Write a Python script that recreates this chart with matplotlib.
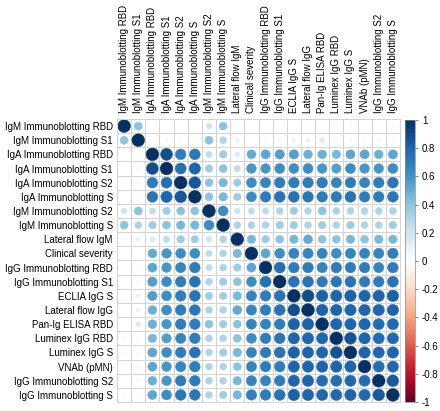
import numpy as np
import matplotlib
matplotlib.use('Agg')
import matplotlib.pyplot as plt
from matplotlib.patches import Circle
from matplotlib.colors import LinearSegmentedColormap, Normalize
from matplotlib.cm import ScalarMappable

labels = ['IgM Immunoblotting RBD', 'IgM Immunoblotting S1', 'IgA Immunoblotting RBD',
          'IgA Immunoblotting S1', 'IgA Immunoblotting S2', 'IgA Immunoblotting S',
          'IgM Immunoblotting S2', 'IgM Immunoblotting S', 'Lateral flow IgM',
          'Clinical severity', 'IgG Immunoblotting RBD', 'IgG Immunoblotting S1',
          'ECLIA IgG S', 'Lateral flow IgG', 'Pan-Ig ELISA RBD', 'Luminex IgG RBD',
          'Luminex IgG S', 'VNAb (pMN)', 'IgG Immunoblotting S2', 'IgG Immunoblotting S']

corr = [
    [1, 0.4, 0, 0, 0.02, 0, 0.2, 0.4, 0.05, 0.02, 0.02, -0.02, 0, 0, 0, -0.05, -0.05, 0, 0, -0.05],
    [0.4, 1, 0.02, 0.05, 0.05, 0, 0.4, 0.3, 0.1, 0, 0.02, 0.05, 0.1, 0.1, 0.15, 0.03, 0.05, 0.05, 0.05, 0.02],
    [0, 0.02, 1, 0.88, 0.7, 0.72, 0.25, 0.35, 0.15, 0.5, 0.52, 0.55, 0.55, 0.48, 0.48, 0.45, 0.52, 0.52, 0.48, 0.52],
    [0, 0.05, 0.88, 1, 0.75, 0.8, 0.35, 0.4, 0.25, 0.58, 0.58, 0.62, 0.62, 0.62, 0.58, 0.55, 0.62, 0.58, 0.58, 0.62],
    [0.02, 0.05, 0.7, 0.75, 1, 0.85, 0.4, 0.45, 0.35, 0.62, 0.66, 0.7, 0.7, 0.7, 0.7, 0.66, 0.7, 0.66, 0.7, 0.72],
    [0, 0, 0.72, 0.8, 0.85, 1, 0.4, 0.45, 0.35, 0.62, 0.7, 0.74, 0.74, 0.72, 0.7, 0.7, 0.74, 0.7, 0.7, 0.72],
    [0.2, 0.4, 0.25, 0.35, 0.4, 0.4, 1, 0.62, 0.2, 0.25, 0.25, 0.3, 0.35, 0.3, 0.4, 0.3, 0.3, 0.3, 0.3, 0.3],
    [0.4, 0.3, 0.35, 0.4, 0.45, 0.45, 0.62, 1, 0.3, 0.3, 0.3, 0.35, 0.35, 0.3, 0.35, 0.3, 0.35, 0.3, 0.3, 0.35],
    [0.05, 0.1, 0.15, 0.25, 0.35, 0.35, 0.2, 0.3, 1, 0.45, 0.35, 0.4, 0.45, 0.5, 0.4, 0.4, 0.45, 0.4, 0.45, 0.45],
    [0.02, 0, 0.5, 0.58, 0.62, 0.62, 0.25, 0.3, 0.45, 1, 0.52, 0.62, 0.66, 0.66, 0.66, 0.62, 0.66, 0.66, 0.66, 0.68],
    [0.02, 0.02, 0.52, 0.58, 0.66, 0.7, 0.25, 0.3, 0.35, 0.52, 1, 0.75, 0.7, 0.7, 0.66, 0.7, 0.7, 0.7, 0.66, 0.7],
    [-0.02, 0.05, 0.55, 0.62, 0.7, 0.74, 0.3, 0.35, 0.4, 0.62, 0.75, 1, 0.74, 0.74, 0.7, 0.72, 0.74, 0.7, 0.7, 0.74],
    [0, 0.1, 0.55, 0.62, 0.7, 0.74, 0.35, 0.35, 0.45, 0.66, 0.7, 0.74, 1, 0.88, 0.82, 0.8, 0.82, 0.8, 0.8, 0.82],
    [0, 0.1, 0.48, 0.62, 0.7, 0.72, 0.3, 0.3, 0.5, 0.66, 0.7, 0.74, 0.88, 1, 0.82, 0.8, 0.8, 0.8, 0.8, 0.8],
    [0, 0.15, 0.48, 0.58, 0.7, 0.7, 0.4, 0.35, 0.4, 0.66, 0.66, 0.7, 0.82, 0.82, 1, 0.8, 0.8, 0.8, 0.76, 0.78],
    [-0.05, 0.03, 0.45, 0.55, 0.66, 0.7, 0.3, 0.3, 0.4, 0.62, 0.7, 0.72, 0.8, 0.8, 0.8, 1, 0.86, 0.8, 0.76, 0.78],
    [-0.05, 0.05, 0.52, 0.62, 0.7, 0.74, 0.3, 0.35, 0.45, 0.66, 0.7, 0.74, 0.82, 0.8, 0.8, 0.86, 1, 0.8, 0.78, 0.8],
    [0, 0.05, 0.52, 0.58, 0.66, 0.7, 0.3, 0.3, 0.4, 0.66, 0.7, 0.7, 0.8, 0.8, 0.8, 0.8, 0.8, 1, 0.76, 0.78],
    [0, 0.05, 0.48, 0.58, 0.7, 0.7, 0.3, 0.3, 0.45, 0.66, 0.66, 0.7, 0.8, 0.8, 0.76, 0.76, 0.78, 0.76, 1, 0.84],
    [-0.05, 0.02, 0.52, 0.62, 0.72, 0.72, 0.3, 0.35, 0.45, 0.68, 0.7, 0.74, 0.82, 0.8, 0.78, 0.78, 0.8, 0.78, 0.84, 1],
]

# corrplot's COL2('RdBu') palette
rdbu = ['#67001F', '#B2182B', '#D6604D', '#F4A582', '#FDDBC7', '#FFFFFF',
        '#D1E5F0', '#92C5DE', '#4393C3', '#2166AC', '#053061']
cmap = LinearSegmentedColormap.from_list('corr', rdbu, N=200)
norm = Normalize(-1, 1)

plt.rcParams['font.family'] = ['Liberation Sans', 'DejaVu Sans']
fs = 7.0

fig = plt.figure(figsize=(4.40, 4.11), dpi=100)
ax = fig.add_axes([0.266, 0.0219, 0.643, 0.6886])

m = np.array(corr)
n = len(labels)
for i in range(n):
    for j in range(n):
        r = m[i, j]
        c = cmap(norm(r))
        ax.add_patch(Circle((j, i), 0.45 * np.sqrt(abs(r)), facecolor=c,
                            edgecolor=c, linewidth=0.3))

ax.set_xlim(-0.5, n - 0.5)
ax.set_ylim(n - 0.5, -0.5)
ax.set_aspect('auto')

ax.set_xticks(range(n))
ax.set_yticks(range(n))
ax.set_xticklabels(labels, rotation=90, fontsize=fs, color='black')
ax.set_yticklabels(labels, fontsize=fs, color='black')
ax.xaxis.tick_top()
ax.tick_params(axis='both', length=0)
ax.tick_params(axis='x', pad=4)
ax.tick_params(axis='y', pad=3)

ax.set_xticks(np.arange(-0.5, n, 1), minor=True)
ax.set_yticks(np.arange(-0.5, n, 1), minor=True)
ax.tick_params(which='minor', length=0)
ax.grid(which='minor', color='#D3D3D3', linewidth=0.7)
ax.grid(which='major', visible=False)
ax.set_axisbelow(True)
for s in ax.spines.values():
    s.set_color('#D3D3D3')
    s.set_linewidth(0.7)

cax = fig.add_axes([0.9205, 0.0219, 0.0227, 0.686])
cb = fig.colorbar(ScalarMappable(norm=norm, cmap=cmap), cax=cax)
cb.set_ticks(np.arange(-1, 1.01, 0.2))
cb.set_ticklabels(['-1', '-0.8', '-0.6', '-0.4', '-0.2', '0', '0.2', '0.4', '0.6', '0.8', '1'])
cax.tick_params(labelsize=fs, length=2, width=0.5, color='#555555', pad=3)
cb.outline.set_linewidth(0.5)
cb.outline.set_edgecolor('#888888')

fig.savefig('out.png', dpi=100)
